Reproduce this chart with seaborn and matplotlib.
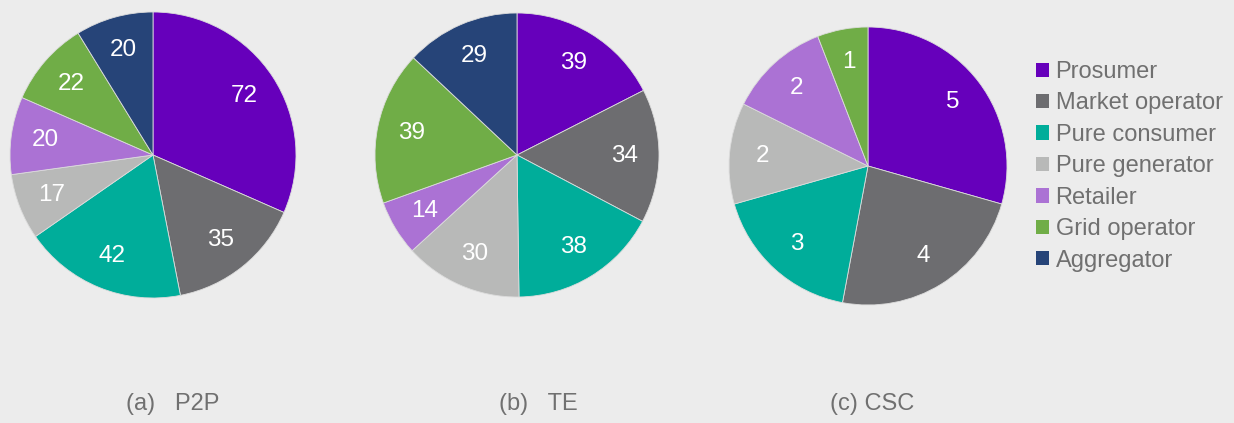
import matplotlib
matplotlib.use("Agg")
import matplotlib.pyplot as plt
import matplotlib.patches as mpatches
import seaborn as sns

categories = ["Prosumer", "Market operator", "Pure consumer", "Pure generator",
              "Retailer", "Grid operator", "Aggregator"]
p2p_values = [72, 35, 42, 17, 20, 22, 20]
te_values = [39, 34, 38, 30, 14, 39, 29]
csc_values = [5, 4, 3, 2, 2, 1, 0]
captions = ["(a)   P2P", "(b)   TE", "(c) CSC"]
colors = ["#6600bb", "#6d6d70", "#00ad9a", "#b8b9b8", "#ab72d4", "#70ad47", "#264478"]

BG = "#ececec"
TXT = "#707070"

sns.set_theme(style="white")
plt.rcParams["font.family"] = ["Liberation Sans", "DejaVu Sans"]

W, H = 1234, 423
fig = plt.figure(figsize=(W / 100, H / 100), dpi=100, facecolor=BG)

# (center x, center y from top, radius) in pixels
layout = [(153, 155, 143), (517, 155, 142), (868, 166, 139)]
cap_pos = [(173, 404), (538, 404), (872, 404)]
datasets = [p2p_values, te_values, csc_values]

for (cx, cy, r), vals, cap, (tx, ty) in zip(layout, datasets, captions, cap_pos):
    ax = fig.add_axes([(cx - r) / W, 1 - (cy + r) / H, 2 * r / W, 2 * r / H])
    ax.set_facecolor(BG)
    total = sum(vals)
    keep = [(v, c) for v, c in zip(vals, colors) if v > 0]
    v_list = [k[0] for k in keep]
    c_list = [k[1] for k in keep]
    wedges, texts, autotexts = ax.pie(
        v_list, colors=c_list, startangle=90, counterclock=False, radius=1,
        autopct=lambda p, t=total: f"{round(p * t / 100)}", pctdistance=0.76,
        wedgeprops=dict(linewidth=0.6, edgecolor="#dcdcdc"),
        textprops=dict(color="white", fontsize=17.5))
    ax.set_xlim(-1, 1)
    ax.set_ylim(-1, 1)
    ax.set_aspect("equal")
    ax.axis("off")
    fig.text(tx / W, 1 - ty / H, cap, ha="center", va="center", fontsize=17, color=TXT)

handles = [mpatches.Patch(facecolor=c, edgecolor="none", label=l) for c, l in zip(colors, categories)]
leg = fig.legend(handles=handles, loc="upper left", bbox_to_anchor=(1036 / W, 1 - 61 / H),
                 frameon=False, fontsize=17, labelcolor=TXT, handlelength=0.55, handleheight=0.55,
                 handletextpad=0.28, labelspacing=0.40, borderaxespad=0, borderpad=0)

fig.savefig("out.png", dpi=100, facecolor=BG)
